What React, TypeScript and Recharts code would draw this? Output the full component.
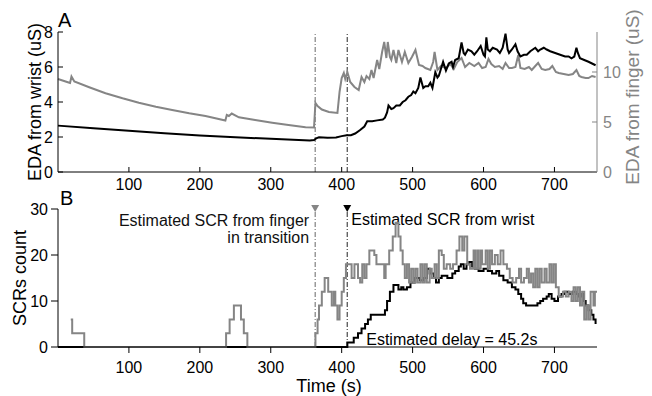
import React from 'react';
import { LineChart, Line, XAxis, YAxis, ReferenceLine, ReferenceDot } from 'recharts';

const GRAY = '#858585';
const FONT = '"Liberation Sans", Arial, sans-serif';

// A: EDA measured at the finger (right axis, uS)
const fingerTime = [0, 15, 17, 19, 23, 44, 67, 91, 114, 138, 161, 185, 208, 236, 238, 241, 245, 255, 278, 302, 325, 349, 361, 363, 366, 372, 382, 394, 397, 400, 403, 405, 408, 412, 418, 424, 428, 432, 435, 439, 442, 445, 450, 453, 457, 460, 463, 465, 468, 470, 473, 477, 480, 485, 489, 494, 499, 504, 509, 514, 518, 525, 529, 531, 535, 540, 547, 553, 558, 563, 569, 574, 580, 587, 593, 598, 603, 607, 611, 616, 622, 627, 631, 636, 640, 645, 649, 652, 658, 664, 668, 673, 677, 682, 687, 693, 697, 702, 706, 713, 720, 726, 731, 735, 738, 744, 748, 753, 758];
const fingerEda = [9.3, 8.95, 8.9, 9.55, 9.05, 8.47, 7.87, 7.37, 6.93, 6.53, 6.2, 5.87, 5.6, 5.15, 5.7, 5.6, 5.85, 5.47, 5.2, 4.93, 4.7, 4.47, 4.45, 6.9, 6.6, 6.25, 6.0, 5.9, 8.0, 9.4, 9.9, 9.3, 10.0, 9.0, 8.5, 8.2, 9.5, 9.0, 9.6, 9.3, 10.2, 9.4, 11.2, 10.3, 12.0, 13.0, 11.4, 13.0, 11.5, 11.2, 12.2, 10.9, 12.2, 11.0, 12.0, 10.9, 11.5, 12.2, 10.7, 10.6, 10.4, 10.2, 11.0, 12.0, 10.2, 10.6, 10.4, 10.8, 10.3, 11.0, 11.4, 10.5, 10.9, 10.6, 10.9, 10.4, 10.5, 11.3, 10.8, 10.5, 10.6, 10.3, 10.9, 10.4, 10.4, 10.5, 11.7, 10.4, 10.3, 10.5, 10.2, 10.6, 10.9, 10.3, 10.2, 10.3, 10.6, 10.0, 9.9, 9.8, 9.7, 9.8, 10.2, 9.6, 9.5, 9.4, 9.4, 9.6, 9.5];

// A: EDA measured at the wrist (left axis, uS)
const wristTime = [0, 50, 100, 150, 200, 250, 300, 355, 361, 364, 368, 380, 392, 400, 407, 413, 419, 426, 432, 436, 443, 450, 458, 461, 464, 466, 470, 473, 477, 482, 486, 490, 494, 498, 501, 504, 508, 511, 515, 518, 522, 525, 528, 532, 535, 537, 540, 543, 547, 551, 555, 557, 560, 565, 569, 572, 574, 578, 583, 587, 591, 596, 600, 602, 604, 606, 609, 613, 619, 623, 627, 631, 634, 636, 640, 645, 648, 652, 657, 661, 666, 673, 677, 680, 685, 689, 694, 701, 708, 715, 720, 724, 728, 731, 733, 736, 742, 748, 753, 758];
const wristEda = [2.65, 2.5, 2.36, 2.22, 2.08, 1.98, 1.9, 1.8, 1.83, 1.92, 1.98, 1.96, 1.97, 2.05, 2.1, 2.1, 2.2, 2.4, 2.6, 2.9, 2.9, 2.95, 3.0, 3.1, 3.4, 3.8, 3.6, 3.65, 3.8, 3.8, 4.0, 4.1, 4.3, 4.4, 4.6, 4.5, 4.8, 5.4, 4.8, 4.9, 4.9, 5.1, 4.8, 5.7, 5.4, 5.5, 5.9, 6.3, 5.8, 6.2, 6.3, 6.0, 6.4, 6.5, 7.4, 6.8, 6.7, 7.0, 6.9, 6.7, 6.9, 7.2, 6.7, 6.6, 7.7, 7.0, 6.9, 7.1, 7.0, 6.8, 7.1, 7.9, 7.0, 6.8, 7.0, 7.3, 6.9, 6.6, 6.7, 6.7, 6.9, 7.1, 6.9, 7.0, 7.1, 7.0, 6.9, 6.8, 6.7, 6.6, 6.6, 6.5, 6.6, 7.1, 6.8, 6.5, 6.4, 6.3, 6.2, 6.1];

// B: SCR count from the finger signal
const scrFingerTime = [18, 20, 37, 237, 242, 248, 258, 262, 267, 363, 366, 368, 372, 376, 381, 386, 389, 391, 394, 397, 400, 403, 406, 414, 418, 423, 426, 429, 432, 435, 439, 446, 449, 460, 462, 467, 472, 476, 480, 483, 486, 489, 492, 495, 498, 501, 504, 507, 511, 514, 517, 520, 524, 527, 531, 534, 537, 541, 544, 548, 553, 557, 562, 566, 570, 573, 577, 581, 586, 588, 591, 593, 596, 598, 603, 606, 609, 612, 616, 620, 624, 628, 633, 637, 641, 646, 650, 653, 657, 661, 664, 667, 670, 673, 676, 679, 682, 686, 689, 693, 696, 699, 702, 706, 712, 716, 720, 724, 727, 730, 733, 736, 739, 742, 745, 748, 751, 755, 757, 760];
const scrFingerCount = [6, 3, 0, 3, 6, 9, 6, 3, 0, 3, 6, 9, 12, 15, 12, 9, 12, 9, 6, 9, 12, 15, 18, 15, 18, 15, 14, 18, 15, 18, 21, 20, 18, 15, 18, 21, 24, 27, 24, 21, 18, 15, 18, 14, 17, 14, 17, 14, 18, 14, 18, 14, 17, 15, 18, 15, 21, 20, 17, 18, 17, 18, 21, 24, 21, 24, 18, 17, 21, 17, 21, 17, 21, 18, 21, 17, 21, 18, 20, 18, 21, 18, 17, 15, 14, 15, 17, 14, 15, 17, 14, 16, 13, 17, 13, 17, 14, 17, 14, 18, 14, 18, 13, 11, 12, 11, 12, 10, 13, 10, 13, 9, 12, 6, 9, 6, 12, 9, 12, 12];

// B: SCR count from the wrist signal
const scrWristTime = [0, 408, 417, 423, 428, 433, 437, 441, 461, 464, 468, 473, 480, 484, 487, 492, 497, 503, 510, 515, 520, 524, 530, 533, 537, 541, 549, 556, 560, 565, 568, 572, 576, 580, 584, 588, 593, 600, 606, 612, 618, 622, 628, 634, 640, 645, 649, 653, 656, 660, 676, 680, 684, 689, 692, 696, 700, 705, 710, 714, 720, 726, 730, 734, 738, 741, 744, 748, 752, 755, 758];
const scrWristCount = [0, 1, 2, 3, 4, 5, 6, 7, 8, 10, 12, 13.5, 12.5, 13, 12.5, 13, 14, 15, 14.5, 15, 17, 16, 15, 14, 15, 15.5, 15, 16, 16.5, 17.5, 18, 17, 18, 18.5, 17.5, 17, 16.5, 17, 16.5, 16, 16.5, 15.5, 14.5, 14, 13, 12.5, 11.5, 10.5, 9.5, 9, 9.5, 10, 10.5, 11, 11.5, 10.5, 10, 11, 11.5, 12, 11.5, 12, 11.5, 11, 11.5, 10, 9, 8, 7, 6, 5];

const timeTicks = [100, 200, 300, 400, 500, 600, 700];
const wristTicks = [0, 2, 4, 6, 8];
const fingerTicks = [0, 5, 10];
const countTicks = [0, 10, 20, 30];

const fingerOnset = 362.6;
const wristOnset = 407.8;

const pairs = (t: number[], v: number[]) => t.map((x, i) => ({ t: x, v: v[i] }));
const fingerData = pairs(fingerTime, fingerEda);
const wristData = pairs(wristTime, wristEda);
const scrFingerData = pairs(scrFingerTime, scrFingerCount);
const scrWristData = pairs(scrWristTime, scrWristCount);

const txt = { fontFamily: FONT, fontSize: 16 };

const bottomTick = (inward: boolean) => (p: any) => (
  <g>
    <line x1={p.x} x2={p.x} y1={p.y} y2={inward ? p.y - 5 : p.y + 6} stroke="#000" />
    <text x={p.x} y={p.y + (inward ? 18 : 26)} textAnchor="middle" fill="#000" {...txt}>
      {p.payload.value}
    </text>
  </g>
);

const leftTick = (inward: boolean) => (p: any) => (
  <g>
    <line x1={p.x} x2={inward ? p.x + 5 : p.x - 7} y1={p.y} y2={p.y} stroke="#000" />
    <text x={p.x - (inward ? 5 : 10)} y={p.y + 6} textAnchor="end" fill="#000" {...txt}>
      {p.payload.value}
    </text>
  </g>
);

const rightTick = (p: any) => (
  <g>
    <line x1={p.x} x2={p.x - 5} y1={p.y} y2={p.y} stroke={GRAY} />
    <text x={p.x + 6} y={p.y + 6} textAnchor="start" fill={GRAY} {...txt}>
      {p.payload.value}
    </text>
  </g>
);

const vText = (s: string, cx: number, cy: number, color: string, size = 18) => (
  <text
    x={cx}
    y={cy}
    transform={`rotate(-90 ${cx} ${cy})`}
    textAnchor="middle"
    dominantBaseline="central"
    fill={color}
    fontFamily={FONT}
    fontSize={size}
  >
    {s}
  </text>
);

const dashed = '5 2 1 2';

const PanelA = () => (
  <LineChart width={652} height={200} margin={{ top: 32, right: 0, bottom: 0, left: 0 }}>
    <XAxis
      type="number"
      dataKey="t"
      domain={[0, 760]}
      ticks={timeTicks}
      interval={0}
      height={28}
      tickSize={0}
      tickMargin={0}
      tickLine={false}
      axisLine={{ stroke: '#000' }}
      tick={bottomTick(true)}
    />
    <YAxis
      yAxisId="left"
      type="number"
      domain={[0, 8]}
      ticks={wristTicks}
      interval={0}
      width={58}
      tickSize={0}
      tickMargin={0}
      tickLine={false}
      axisLine={{ stroke: '#000' }}
      tick={leftTick(true)}
      label={() => (
        <g>
          {vText('EDA from wrist (uS)', 35, 102, '#000')}
          <text x={58} y={27} fontFamily={FONT} fontSize={20} fill="#000">A</text>
        </g>
      )}
    />
    <YAxis
      yAxisId="right"
      orientation="right"
      type="number"
      domain={[0, 14]}
      ticks={fingerTicks}
      interval={0}
      width={55}
      tickSize={0}
      tickMargin={0}
      tickLine={false}
      axisLine={{ stroke: GRAY }}
      tick={rightTick}
      label={() => vText('EDA from finger (uS)', 632, 97, GRAY, 19)}
    />
    <ReferenceLine yAxisId="left" x={fingerOnset} stroke="#666" strokeDasharray={dashed} />
    <ReferenceLine yAxisId="left" x={wristOnset} stroke="#222" strokeDasharray={dashed} />
    <Line yAxisId="right" data={fingerData} dataKey="v" type="linear" stroke={GRAY} strokeWidth={2} dot={false} isAnimationActive={false} />
    <Line yAxisId="left" data={wristData} dataKey="v" type="linear" stroke="#000" strokeWidth={2} dot={false} isAnimationActive={false} />
  </LineChart>
);

const triangle = (color: string) => (p: any) => (
  <path d={`M${p.cx - 4},${p.cy - 4}L${p.cx + 4},${p.cy - 4}L${p.cx},${p.cy + 3}Z`} fill={color} />
);

const PanelB = () => (
  <LineChart width={652} height={211} margin={{ top: 24, right: 55, bottom: 0, left: 0 }}>
    <XAxis
      type="number"
      dataKey="t"
      domain={[0, 760]}
      ticks={timeTicks}
      interval={0}
      height={49}
      tickSize={0}
      tickMargin={0}
      tickLine={false}
      axisLine={{ stroke: '#000' }}
      tick={bottomTick(false)}
      label={() => (
        <text x={329} y={207} textAnchor="middle" fill="#000" fontFamily={FONT} fontSize={18}>
          Time (s)
        </text>
      )}
    />
    <YAxis
      type="number"
      domain={[0, 30]}
      ticks={countTicks}
      interval={0}
      width={58}
      tickSize={0}
      tickMargin={0}
      tickLine={false}
      axisLine={{ stroke: '#000' }}
      tick={leftTick(false)}
      label={() => (
        <g>
          {vText('SCRs count', 20, 93, '#000')}
          <text x={60} y={20} fontFamily={FONT} fontSize={20} fill="#000">B</text>
        </g>
      )}
    />
    <ReferenceLine
      x={fingerOnset}
      stroke="#666"
      strokeDasharray={dashed}
      label={(p: any) => (
        <text x={p.viewBox.x - 6} y={p.viewBox.y + 17} textAnchor="end" fill="#111" {...txt}>
          <tspan x={p.viewBox.x - 6}>Estimated SCR from finger</tspan>
          <tspan x={p.viewBox.x - 6} dy={17}>in transition</tspan>
        </text>
      )}
    />
    <ReferenceLine
      x={wristOnset}
      stroke="#222"
      strokeDasharray={dashed}
      label={(p: any) => (
        <g>
          <text x={p.viewBox.x + 4} y={p.viewBox.y + 16} textAnchor="start" fill="#000" {...txt}>
            Estimated SCR from wrist
          </text>
          <text x={p.viewBox.x + 19} y={p.viewBox.y + p.viewBox.height - 2} textAnchor="start" fill="#000" {...txt}>
            Estimated delay = 45.2s
          </text>
        </g>
      )}
    />
    <Line data={scrWristData} dataKey="v" type="stepAfter" stroke="#000" strokeWidth={2} dot={false} isAnimationActive={false} />
    <Line data={scrFingerData} dataKey="v" type="stepAfter" stroke={GRAY} strokeWidth={2} dot={false} isAnimationActive={false} />
    <ReferenceDot x={fingerOnset} y={30} shape={triangle(GRAY)} />
    <ReferenceDot x={wristOnset} y={30} shape={triangle('#000')} />
  </LineChart>
);

export default function App() {
  return (
    <div style={{ position: 'absolute', left: 0, top: 0, width: 652, height: 396, background: '#fff' }}>
      <div style={{ position: 'absolute', left: 0, top: 0 }}>
        <PanelA />
      </div>
      <div style={{ position: 'absolute', left: 0, top: 185 }}>
        <PanelB />
      </div>
    </div>
  );
}
